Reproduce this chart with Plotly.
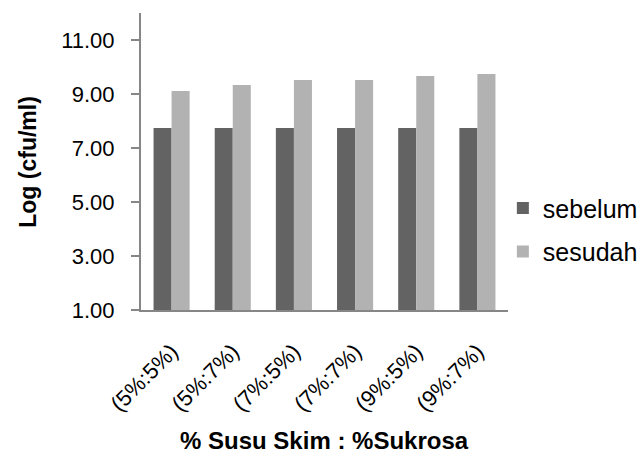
import plotly.graph_objects as go

categories = ["(5%:5%)", "(5%:7%)", "(7%:5%)", "(7%:7%)", "(9%:5%)", "(9%:7%)"]
sebelum = [7.74, 7.74, 7.74, 7.74, 7.74, 7.74]
sesudah = [9.11, 9.33, 9.52, 9.52, 9.67, 9.74]
y_ticks = [1, 3, 5, 7, 9, 11]
y_ticklabels = ["1.00", "3.00", "5.00", "7.00", "9.00", "11.00"]

FONT = "Liberation Sans, Arial, sans-serif"

fig = go.Figure()
fig.add_trace(go.Bar(name="sebelum", x=categories, y=sebelum, marker_color="#636363",
                     marker_line_width=0, legendgroup="a"))
fig.add_trace(go.Bar(name="sesudah", x=categories, y=sesudah, marker_color="#b2b2b2",
                     marker_line_width=0, legendgroup="b"))

fig.update_layout(
    width=644, height=454,
    margin=dict(l=141, r=136, t=13, b=144, autoexpand=False),
    paper_bgcolor="white", plot_bgcolor="white",
    barmode="group", bargap=0.41, bargroupgap=0,
    font=dict(family=FONT, color="#000000", size=20),
    showlegend=True,
    legend=dict(x=0.986, xanchor="left", y=0.27, yanchor="middle", xref="paper",
                font=dict(size=25, family=FONT), tracegroupgap=8, traceorder="grouped",
                itemsizing="constant", bgcolor="rgba(0,0,0,0)"),
    xaxis=dict(showline=True, linecolor="#868686", linewidth=2, ticks="", tickangle=-45,
               tickfont=dict(size=22, family=FONT), showgrid=False, automargin=False,
               ticklabelstandoff=18),
    yaxis=dict(range=[1, 12], tickvals=y_ticks, ticktext=y_ticklabels, showline=True,
               linecolor="#868686", linewidth=2, ticks="outside", ticklen=8, tickcolor="#868686",
               tickwidth=2, tickfont=dict(size=22, family=FONT), showgrid=False, zeroline=False,
               automargin=False, ticklabelstandoff=12),
    annotations=[
        dict(text="<b>Log (cfu/ml)</b>", xref="paper", yref="paper", x=-0.31, y=0.5,
             xanchor="center", yanchor="middle", textangle=-90, showarrow=False,
             font=dict(size=23, family=FONT)),
        dict(text="<b>% Susu Skim : %Sukrosa</b>", xref="paper", yref="paper", x=0.5, y=-0.44,
             xanchor="center", yanchor="middle", showarrow=False,
             font=dict(size=24, family=FONT)),
    ],
)

fig.write_html("out.html", config={"displayModeBar": False},
               post_script="document.body.style.margin='0';")
